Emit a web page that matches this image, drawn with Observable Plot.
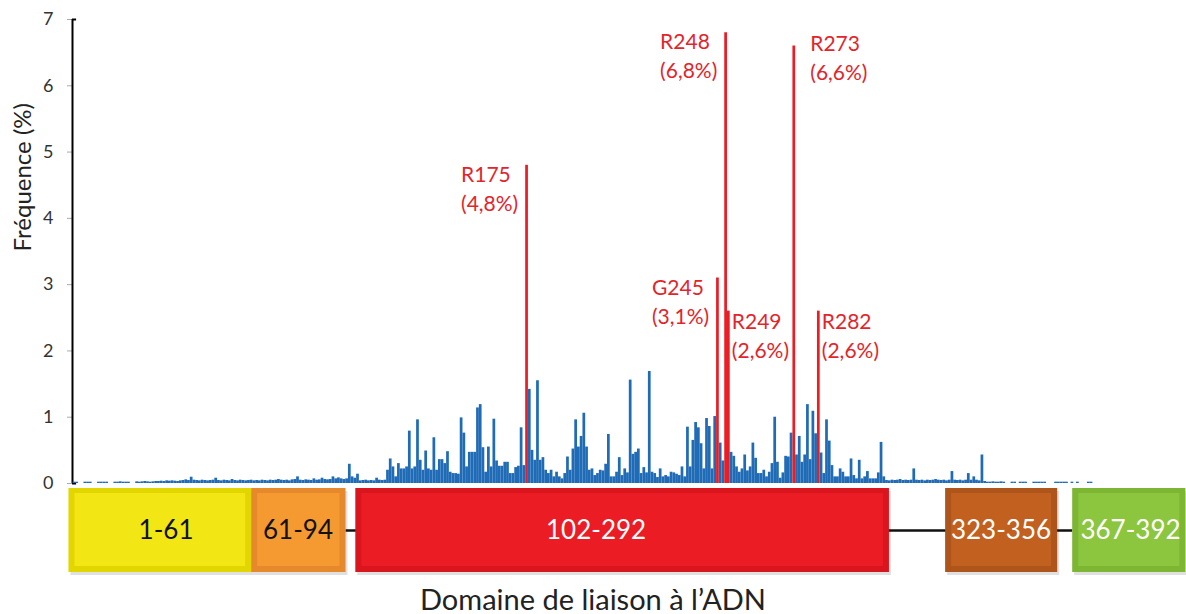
<!DOCTYPE html>
<html>
<head>
<meta charset="utf-8">
<script src="https://cdn.jsdelivr.net/npm/d3@7"></script>
<script src="https://cdn.jsdelivr.net/npm/@observablehq/plot@0.6"></script>
<style>
  html, body { margin: 0; padding: 0; background: #ffffff; }
  #chart { width: 1186px; font-family: Lato, "Open Sans", sans-serif; }
  #chart svg { display: block; }
  #title { width: 1186px; text-align: center; font-size: 29px; line-height: 46px; color: #222; font-family: Lato, sans-serif; }
</style>
</head>
<body>
<div id="chart"></div>
<div id="title">Domaine de liaison à l’ADN</div>
<script>
// Mutation frequency (%) per codon 1..393 (blue bars; hotspot codons are drawn in red)
const codonValues = [
  0,0,0,0,0,0,0,0,0.02,0.02,
  0,0,0.02,0.02,0.02,0,0,0.02,0.02,0.02,
  0.02,0,0,0.02,0.02,0.025,0.02,0.02,0.02,0,
  0,0.025,0.02,0.025,0.03,0.025,0.02,0.025,0.03,0.03,
  0.035,0.03,0.04,0.035,0.04,0.035,0.03,0.04,0.045,0.055,
  0.045,0.095,0.05,0.045,0.04,0.05,0.045,0.04,0.045,0.05,
  0.08,0.045,0.04,0.05,0.045,0.04,0.06,0.045,0.04,0.05,
  0.045,0.04,0.045,0.05,0.04,0.045,0.04,0.05,0.045,0.04,
  0.05,0.045,0.05,0.06,0.05,0.045,0.05,0.04,0.055,0.06,
  0.1,0.05,0.045,0.055,0.05,0.045,0.07,0.05,0.055,0.08,
  0.06,0.055,0.06,0.1,0.07,0.085,0.07,0.06,0.07,0.29,
  0.1,0.08,0.14,0.04,0.045,0.05,0.04,0.045,0.04,0.08,
  0.05,0.045,0.05,0.2,0.37,0.25,0.1,0.3,0.22,0.22,
  0.25,0.79,0.22,0.25,0.96,0.35,0.2,0.49,0.22,0.2,
  0.69,0.2,0.36,0.36,0.3,0.48,0.17,0.15,0.15,0.14,
  0.99,0.76,0.25,0.47,0.47,0.47,1.14,1.19,0.54,0.17,
  0.55,0.25,0.97,0.34,0.26,0.26,0.32,0.32,0.15,0.15,
  0.24,0.26,0.84,0.27,0,1.42,0.5,0.35,1.55,0.35,
  0.39,0.2,0.15,0.2,0.1,0.17,0.1,0.07,0.15,0.4,
  0.2,0.52,0.96,0.55,0.71,1.06,0.55,0.2,0.22,0.12,
  0.15,0.2,0.19,0.29,0.74,0.1,0.1,0.17,0.39,0.12,
  0.22,0.16,1.56,0.44,0.47,0.52,0.15,0.24,0.16,1.69,
  0.17,0.15,0.09,0.22,0.1,0.12,0.1,0.17,0.16,0.14,
  0.12,0.25,0.1,0.85,0.25,0.65,0.92,0.84,0.6,0.22,
  0.98,0.86,0.22,1.01,0,0.61,0.34,0,0,0.47,
  0.41,0.25,0.17,0.22,0.43,0.19,0.25,0.61,0.38,0.15,
  0.15,0.2,0.1,0.17,0.3,1.0,0.32,0.08,0.16,0.41,
  0.4,0.76,0,0.43,0.71,0.32,0.43,1.19,0.36,1.09,
  0.75,0,0.46,0.15,0.96,0.64,0.27,0.1,0.1,0.22,
  0.17,0.1,0.1,0.37,0.12,0.07,0.35,0.07,0.1,0.18,
  0.07,0.07,0.07,0.16,0.62,0.1,0.045,0.04,0.05,0.045,
  0.05,0.06,0.045,0.05,0.045,0.05,0.22,0.05,0.045,0.05,
  0.04,0.05,0.045,0.05,0.06,0.05,0.045,0.05,0.04,0.05,
  0.18,0.05,0.045,0.05,0.04,0.05,0.15,0.05,0.1,0.05,
  0.04,0.43,0.03,0.02,0.02,0.025,0.02,0.02,0.025,0.02,
  0,0,0.02,0.02,0,0.02,0.02,0.02,0,0,
  0.02,0.02,0.02,0.02,0.02,0,0,0,0.02,0.02,
  0.02,0.02,0.02,0,0.02,0,0.02,0,0,0,
  0.02,0.02,0,0,0,0,0,0,0,0,
  0,0,0
];

// Hotspots
const hotspotNames  = ["R175", "G245", "R248", "R249", "R273", "R282"];
const hotspotCodons = [175, 245, 248, 249, 273, 282];
const hotspotValues = [4.8, 3.1, 6.8, 2.6, 6.6, 2.6];

// Y axis ticks
const yTicks = [0, 1, 2, 3, 4, 5, 6, 7];

// Protein domains (schematic extents on the codon axis)
const domainLabels = ["1-61", "61-94", "102-292", "323-356", "367-392"];
const domainStart  = [7, 74, 112.2, 328.5, 375.1];
const domainEnd    = [74, 108.6, 307.9, 369.6, 416.6];
const domainLabelAt = [42.6, 91, 200.3, 348.8, 396.3];

// ---- styles ----
const BLUE = "#1f6bb6";
const RED = "#ec1c24";
const LABEL_RED = "#e3242b";
const domainMain  = ["#f2e614", "#f49a31", "#ec1c24", "#c2601f", "#8cc63f"];
const domainBevel = ["#e2d600", "#e6882c", "#d9161e", "#ad551b", "#7db633"];
const domainText  = ["#111", "#111", "#fff", "#fff", "#fff"];
const xDomain = [8.3, 393];

const bars = codonValues.map((v, i) => ({codon: i + 1, value: v})).filter(d => d.value > 0);
const hotspots = hotspotNames.map((n, i) => ({
  name: n, codon: hotspotCodons[i], value: hotspotValues[i],
  label: `${n}\n(${String(hotspotValues[i]).replace(".", ",")}%)`
}));
const leftSide = new Set(["R175", "G245", "R248"]);
const domains = domainLabels.map((l, i) => ({label: l, x1: domainStart[i], x2: domainEnd[i], lx: domainLabelAt[i], i}));

const labelFont = {fontSize: 21, fill: LABEL_RED, lineAnchor: "top", lineHeight: 1.38, textAnchor: "start"};

const freqPlot = Plot.plot({
  width: 1186, height: 486,
  marginTop: 19, marginBottom: 3, marginLeft: 72, marginRight: 65,
  x: {domain: xDomain, axis: null},
  y: {domain: [0, 7]},
  style: {fontFamily: "Lato, sans-serif", background: "#fff", color: "#333", overflow: "visible"},
  marks: [
    Plot.axisY({ticks: yTicks, tickFormat: d => String(d), tickSize: 5, tickPadding: 14, fontSize: 18, label: null, stroke: "#aaa", fill: "#333"}),
    Plot.ruleX([xDomain[0]], {y1: 0, y2: 7, stroke: "#000", strokeWidth: 2}),
    Plot.ruleY([0, 7], {x1: xDomain[0], x2: xDomain[0] + 1.5, stroke: "#000", strokeWidth: 2}),
    Plot.text(["Fréquence (%)"], {frameAnchor: "left", rotate: -90, dx: -49, dy: 0, fontSize: 24, fill: "#222"}),
    Plot.rectY(bars, {x1: d => d.codon - 0.5, x2: d => d.codon + 0.5, y: "value", fill: BLUE}),
    Plot.rectY(hotspots, {x1: d => d.codon - 0.5, x2: d => d.codon + 0.5, y: "value", fill: RED}),
    Plot.text(hotspots.filter(d => leftSide.has(d.name)), {x: "codon", y: "value", text: "label", dx: -66, dy: -4, ...labelFont}),
    Plot.text(hotspots.filter(d => !leftSide.has(d.name) && d.name !== "R273"), {x: "codon", y: "value", text: "label", dx: 3, dy: -3, ...labelFont}),
    Plot.text(hotspots.filter(d => d.name === "R273"), {x: "codon", y: "value", text: "label", dx: 16, dy: -16, ...labelFont})
  ]
});

const domainPlot = Plot.plot({
  width: 1186, height: 90,
  marginTop: 2, marginBottom: 4, marginLeft: 72, marginRight: 65,
  x: {domain: xDomain, axis: null},
  y: {domain: [0, 1], axis: null},
  style: {fontFamily: "Lato, sans-serif", background: "#fff", overflow: "visible"},
  marks: [
    Plot.ruleY([0.5], {x1: domainEnd[1], x2: domainStart[4], stroke: "#111", strokeWidth: 2.5}),
    Plot.rect(domains, {x1: "x1", x2: "x2", y1: 0, y2: 1, fill: "#000", fillOpacity: 0.12, dx: 2, dy: 3}),
    Plot.rect(domains, {x1: "x1", x2: "x2", y1: 0, y2: 1, fill: d => domainBevel[d.i]}),
    Plot.rect(domains, {x1: "x1", x2: "x2", y1: 0, y2: 1, fill: d => domainMain[d.i], insetLeft: 6, insetRight: 6, insetTop: 5, insetBottom: 6}),
    Plot.text(domains, {x: "lx", y: 0.5, text: "label", fill: d => domainText[d.i], fontSize: 26})
  ]
});

const chartEl = document.getElementById("chart");
chartEl.appendChild(freqPlot);
chartEl.appendChild(domainPlot);
</script>
</body>
</html>
